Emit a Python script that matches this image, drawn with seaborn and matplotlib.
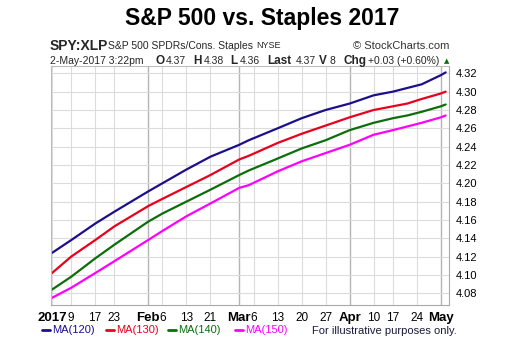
import numpy as np
import pandas as pd
import matplotlib
matplotlib.use("Agg")
import matplotlib.pyplot as plt
import seaborn as sns

# ---- data ----
sample_dates = ["2017-01-03", "2017-01-09", "2017-01-17", "2017-01-23", "2017-02-01",
                "2017-02-06", "2017-02-13", "2017-02-21", "2017-03-01", "2017-03-03",
                "2017-03-13", "2017-03-20", "2017-03-27", "2017-04-03", "2017-04-10",
                "2017-04-17", "2017-04-20", "2017-04-25", "2017-05-01", "2017-05-02"]
ma120 = [4.124, 4.138, 4.156, 4.169, 4.191, 4.200, 4.215, 4.229, 4.242, 4.247,
         4.260, 4.271, 4.280, 4.287, 4.296, 4.300, 4.304, 4.308, 4.318, 4.321]
ma130 = [4.102, 4.120, 4.138, 4.153, 4.175, 4.183, 4.196, 4.209, 4.226, 4.230,
         4.244, 4.254, 4.263, 4.272, 4.280, 4.284, 4.287, 4.292, 4.298, 4.300]
ma140 = [4.084, 4.098, 4.118, 4.133, 4.158, 4.167, 4.180, 4.193, 4.209, 4.214,
         4.227, 4.238, 4.247, 4.258, 4.266, 4.271, 4.274, 4.278, 4.284, 4.286]
ma150 = [4.075, 4.086, 4.102, 4.115, 4.138, 4.148, 4.164, 4.178, 4.195, 4.198,
         4.213, 4.224, 4.233, 4.242, 4.253, 4.258, 4.262, 4.266, 4.272, 4.274]
series_names = ["MA(120)", "MA(130)", "MA(140)", "MA(150)"]
series_colors = ["#1c0f8c", "#e8001c", "#0b6e0b", "#ff00ff"]

holidays = ["2017-01-16", "2017-02-20", "2017-04-14"]
tick_dates = ["2017-01-03", "2017-01-09", "2017-01-17", "2017-01-23", "2017-02-01",
              "2017-02-06", "2017-02-13", "2017-02-21", "2017-03-01", "2017-03-06",
              "2017-03-13", "2017-03-20", "2017-03-27", "2017-04-03", "2017-04-10",
              "2017-04-17", "2017-04-24", "2017-05-01"]
tick_labels = ["2017", "9", "17", "23", "Feb", "6", "13", "21", "Mar", "6",
               "13", "20", "27", "Apr", "10", "17", "24", "May"]
major_labels = {"2017", "Feb", "Mar", "Apr", "May"}
y_ticks = [4.08, 4.10, 4.12, 4.14, 4.16, 4.18, 4.20, 4.22, 4.24, 4.26, 4.28, 4.30, 4.32]

# trading-day calendar -> index positions
days = pd.bdate_range("2017-01-03", "2017-05-02")
days = days[~days.isin(pd.to_datetime(holidays))]
pos = {d: i for i, d in enumerate(days)}
def tpos(s):
    return pos[pd.Timestamp(s)]

rows = []
for name, vals in zip(series_names, [ma120, ma130, ma140, ma150]):
    for d, v in zip(sample_dates, vals):
        rows.append({"t": tpos(d), "value": v, "series": name})
df = pd.DataFrame(rows)

sns.set_theme(style="white")
plt.rcParams["font.family"] = ["Liberation Sans", "DejaVu Sans"]

fig = plt.figure(figsize=(5.27, 3.47), dpi=100)
ax = fig.add_axes([51 / 527, 1 - 305 / 347, (449 - 51) / 527, (305 - 66) / 347])

sns.lineplot(data=df, x="t", y="value", hue="series", palette=series_colors,
             hue_order=series_names, linewidth=1.6, ax=ax, legend=False)

ax.set_xlim(-0.2, 82.7)
ax.set_ylim(4.0672, 4.328)
ax.set_xlabel("")
ax.set_ylabel("")

# grid
for d, lab in zip(tick_dates, tick_labels):
    x = tpos(d)
    if lab in major_labels and lab != "2017":
        ax.axvline(x, color="#b4b4b4", lw=1.0, zorder=0)
    else:
        ax.axvline(x, color="#dcdcdc", lw=0.8, zorder=0)
for y in y_ticks:
    ax.axhline(y, color="#dcdcdc", lw=0.8, zorder=0)

ax.set_xticks([tpos(d) for d in tick_dates])
ax.set_xticklabels(tick_labels)
for t in ax.get_xticklabels():
    t.set_fontsize(8.5)
    if t.get_text() in major_labels:
        t.set_fontweight("bold")
        t.set_fontsize(9.5)
ax.tick_params(axis="x", length=0, pad=5, colors="black")

ax.yaxis.tick_right()
ax.set_yticks(y_ticks)
ax.set_yticklabels([f"{v:.2f}" for v in y_ticks])
ax.tick_params(axis="y", length=0, pad=5, labelsize=8, colors="black")

for side in ["left", "top"]:
    ax.spines[side].set_color("#bdbdbd")
    ax.spines[side].set_linewidth(0.8)
for side in ["right", "bottom"]:
    ax.spines[side].set_color("#a8a8a8")
    ax.spines[side].set_linewidth(0.8)
    ax.spines[side].set_linestyle((0, (1, 1)))

# title and header
fig.text(262 / 527, 1 - 18 / 347, "S&P 500 vs. Staples 2017", ha="center", va="center",
         fontsize=16.5, fontweight="bold", color="black")
fig.text(50 / 527, 1 - 46 / 347, "SPY:XLP", ha="left", va="center", fontsize=10,
         fontweight="bold")
fig.text(108 / 527, 1 - 46 / 347, "S&P 500 SPDRs/Cons. Staples", ha="left", va="center",
         fontsize=7.5)
fig.text(256 / 527, 1 - 46 / 347, "NYSE", ha="left", va="center", fontsize=6.5)
fig.text(449 / 527, 1 - 46 / 347, "\u00a9 StockCharts.com", ha="right", va="center",
         fontsize=8, color="#333333")
fig.text(50 / 527, 1 - 61 / 347,
         "2-May-2017 3:22pm", ha="left", va="center", fontsize=7.5)
quote = [("O", 156), ("4.37", 166), ("H", 193), ("4.38", 204), ("L", 230), ("4.36", 240),
         ("Last", 267), ("4.37", 296), ("V", 319), ("8", 330), ("Chg", 343), ("+0.03 (+0.60%)", 368)]
for txt, x in quote:
    bold = txt in ("O", "H", "L", "Last", "V", "Chg")
    fig.text(x / 527, 1 - 61 / 347, txt, ha="left", va="center",
             fontsize=8.5 if bold else 7.5, fontweight="bold" if bold else "normal")
fig.text(447 / 527, 1 - 61 / 347, "\u25b2", ha="center", va="center", fontsize=5,
         color="#0b6e0b", family=["DejaVu Sans"])

# legend row
leg_x = [42, 106, 168, 235]
for name, col, x in zip(series_names, series_colors, leg_x):
    fig.lines.append(plt.Line2D([x / 527, (x + 8) / 527], [1 - 330 / 347] * 2,
                                transform=fig.transFigure, color=col, lw=2))
    fig.text((x + 10) / 527, 1 - 330 / 347, name, ha="left", va="center",
             fontsize=8, color=col)
fig.text(312 / 527, 1 - 331 / 347, "For illustrative purposes only.", ha="left",
         va="center", fontsize=8, color="#1a1a3a")

fig.savefig("out.png", dpi=100)
